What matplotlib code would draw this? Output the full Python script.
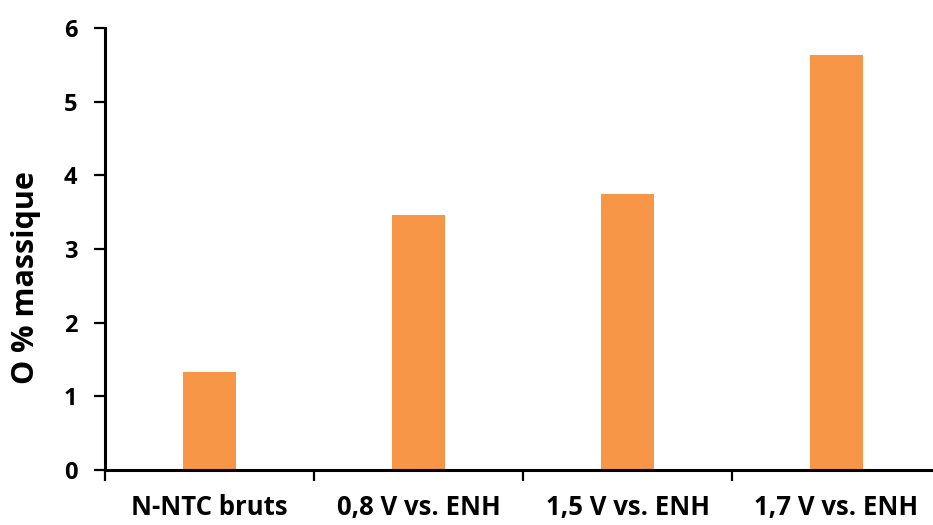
import matplotlib
matplotlib.use("Agg")
import matplotlib.pyplot as plt
import numpy as np

# Données
categories = ["N-NTC bruts", "0,8 V vs. ENH", "1,5 V vs. ENH", "1,7 V vs. ENH"]
oxygene = [1.33, 3.46, 3.75, 5.63]

plt.rcParams['font.family'] = ['Open Sans', 'DejaVu Sans']
plt.rcParams['font.weight'] = 'bold'

fig = plt.figure(figsize=(9.33, 5.25), dpi=100)
ax = fig.add_axes([105/933, 55/525, 836/933, 442/525])

x = np.arange(len(categories)) + 0.5
ax.bar(x, oxygene, width=0.25, color='#F79646')

ax.set_xlim(0, len(categories))
ax.set_ylim(0, 6)
ax.set_yticks(range(7))
ax.set_yticklabels([str(i) for i in range(7)], fontsize=17, fontweight='bold')

# ticks entre les catégories
ax.set_xticks(np.arange(len(categories)))
ax.set_xticklabels([])
ax.set_xticks(x, minor=True)
ax.set_xticklabels(categories, minor=True, fontsize=18.5, fontweight='bold')
ax.tick_params(axis='x', which='minor', length=0, pad=17)
ax.tick_params(axis='x', which='major', length=8, width=1.6, direction='out')
ax.tick_params(axis='y', length=8, width=1.6, direction='out', pad=12)

ax.set_ylabel('O % massique', fontsize=22, fontweight='bold')
ax.yaxis.set_label_coords(-0.076, 0.435)

for s in ['top', 'right']:
    ax.spines[s].set_visible(False)
for s in ['left', 'bottom']:
    ax.spines[s].set_linewidth(2.2)

plt.savefig('out.png', dpi=100)
